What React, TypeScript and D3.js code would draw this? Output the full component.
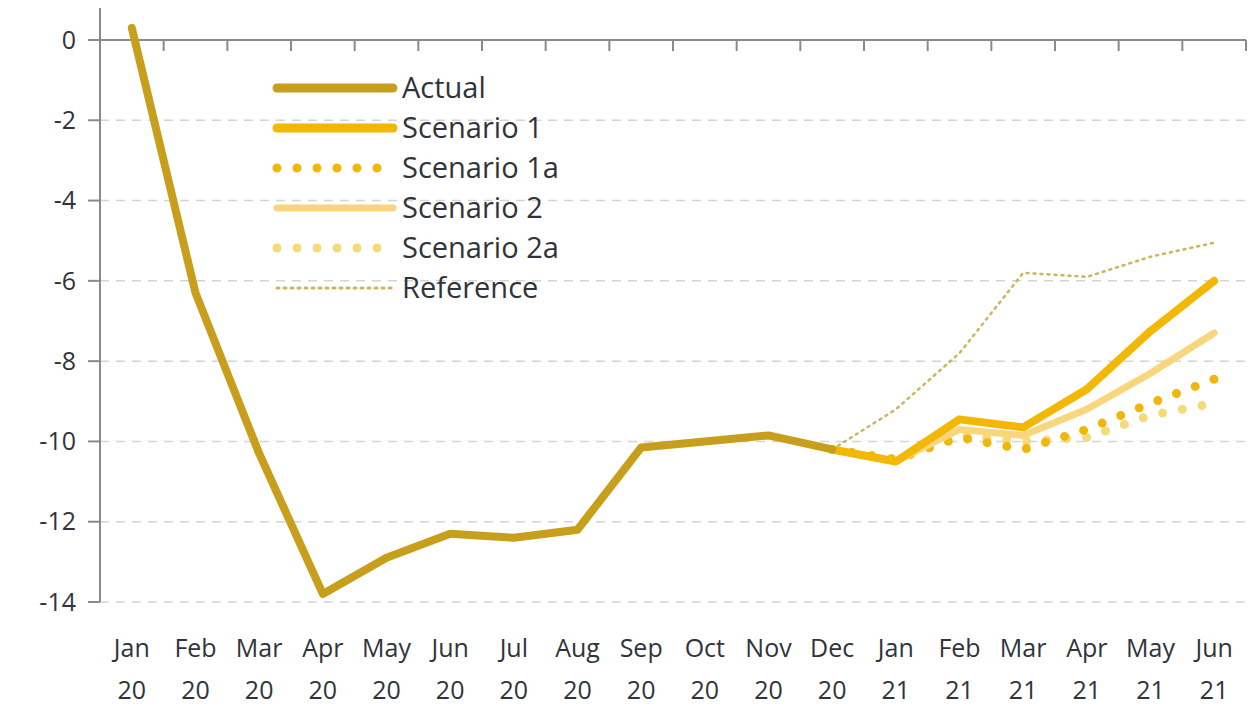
import React from "react";
import * as d3 from "d3";

const categories = [
  ["Jan", "20"], ["Feb", "20"], ["Mar", "20"], ["Apr", "20"], ["May", "20"], ["Jun", "20"],
  ["Jul", "20"], ["Aug", "20"], ["Sep", "20"], ["Oct", "20"], ["Nov", "20"], ["Dec", "20"],
  ["Jan", "21"], ["Feb", "21"], ["Mar", "21"], ["Apr", "21"], ["May", "21"], ["Jun", "21"],
];

const actual: (number | null)[] = [0.3, -6.3, -10.3, -13.8, -12.9, -12.3, -12.4, -12.2, -10.15, -10.0, -9.85, -10.2, null, null, null, null, null, null];
const scenario1: (number | null)[] = [null, null, null, null, null, null, null, null, null, null, null, -10.2, -10.5, -9.45, -9.65, -8.7, -7.25, -6.0];
const scenario1a: (number | null)[] = [null, null, null, null, null, null, null, null, null, null, null, -10.2, -10.45, -9.9, -10.2, -9.7, -9.05, -8.45];
const scenario2: (number | null)[] = [null, null, null, null, null, null, null, null, null, null, null, -10.2, -10.5, -9.7, -9.85, -9.2, -8.3, -7.3];
const scenario2a: (number | null)[] = [null, null, null, null, null, null, null, null, null, null, null, -10.2, -10.45, -9.85, -10.0, -9.9, -9.35, -9.05];
const reference: (number | null)[] = [null, null, null, null, null, null, null, null, null, null, null, -10.2, -9.2, -7.8, -5.8, -5.9, -5.4, -5.05];

const yTicks = [0, -2, -4, -6, -8, -10, -12, -14];

const seriesNames = ["Actual", "Scenario 1", "Scenario 1a", "Scenario 2", "Scenario 2a", "Reference"];

const FONT = "'Open Sans', sans-serif";
const TEXT = "#30343a";

export default function App() {
  const W = 1255, H = 728;
  const left = 100, right = 1246, top0 = 40, bottom = 602;
  const x = d3.scaleBand<number>().domain(d3.range(categories.length)).range([left, right]);
  const y = d3.scaleLinear().domain([-14, 0]).range([bottom, top0]);
  const cx = (i: number) => (x(i) as number) + x.bandwidth() / 2;

  const lineGen = d3.line<number | null>()
    .defined((d) => d !== null)
    .x((_, i) => cx(i))
    .y((d) => y(d as number));

  const styles: Record<string, any> = {
    "Actual": { stroke: "#C79F1C", width: 8, dash: undefined },
    "Scenario 1": { stroke: "#F3B806", width: 8, dash: undefined },
    "Scenario 1a": { stroke: "#EFB70A", width: 9, dash: "0 20" },
    "Scenario 2": { stroke: "#F7D67E", width: 7, dash: undefined },
    "Scenario 2a": { stroke: "#F5DA7A", width: 9, dash: "0 20" },
    "Reference": { stroke: "#CDB55A", width: 2.5, dash: "2 5" },
  };
  const dataMap: Record<string, (number | null)[]> = {
    "Actual": actual,
    "Scenario 1": scenario1,
    "Scenario 1a": scenario1a,
    "Scenario 2": scenario2,
    "Scenario 2a": scenario2a,
    "Reference": reference,
  };
  const drawOrder = ["Reference", "Scenario 2a", "Scenario 1a", "Scenario 2", "Scenario 1", "Actual"];

  return (
    <div style={{ position: "fixed", left: 0, top: 0 }}>
      <svg width={W} height={H} style={{ display: "block", background: "#fff" }}>
        {/* gridlines */}
        {yTicks.filter((t) => t !== 0).map((t) => (
          <line key={"g" + t} x1={left} x2={right} y1={y(t)} y2={y(t)} stroke="#d4d4d4" strokeWidth={1.5} strokeDasharray="9 7" />
        ))}
        {/* y axis */}
        <line x1={left} x2={left} y1={8} y2={bottom} stroke="#8a8a8a" strokeWidth={2} />
        {yTicks.map((t) => (
          <g key={"yt" + t}>
            <line x1={left - 12} x2={left} y1={y(t)} y2={y(t)} stroke="#8a8a8a" strokeWidth={2} />
            <text x={left - 24} y={y(t)} dy="0.35em" textAnchor="end" fontFamily={FONT} fontSize={25} fill={TEXT}>{t}</text>
          </g>
        ))}
        {/* x axis at 0 */}
        <line x1={left} x2={right} y1={y(0)} y2={y(0)} stroke="#8a8a8a" strokeWidth={2} />
        {d3.range(categories.length + 1).map((i) => {
          const xx = left + i * x.bandwidth();
          return <line key={"xt" + i} x1={xx} x2={xx} y1={y(0)} y2={y(0) + 11} stroke="#8a8a8a" strokeWidth={2} />;
        })}
        {categories.map((c, i) => (
          <text key={"xl" + i} x={cx(i)} textAnchor="middle" fontFamily={FONT} fontSize={25} fill={TEXT}>
            <tspan x={cx(i)} y={657}>{c[0]}</tspan>
            <tspan x={cx(i)} y={699}>{c[1]}</tspan>
          </text>
        ))}
        {/* series */}
        {drawOrder.map((name) => {
          const s = styles[name];
          return (
            <path key={name} d={lineGen(dataMap[name]) || ""} fill="none" stroke={s.stroke} strokeWidth={s.width}
              strokeDasharray={s.dash} strokeLinecap="round" strokeLinejoin="round" />
          );
        })}
        {/* legend */}
        {seriesNames.map((name, k) => {
          const s = styles[name];
          const ly = 88 + k * 40;
          return (
            <g key={"lg" + name}>
              <line x1={277} x2={393} y1={ly} y2={ly} stroke={s.stroke} strokeWidth={name === "Scenario 2" ? 7 : name === "Reference" ? 3 : 9}
                strokeDasharray={s.dash} strokeLinecap="round" />
              <text x={402} y={ly} dy="0.35em" fontFamily={FONT} fontSize={29} fill={TEXT}>{name}</text>
            </g>
          );
        })}
      </svg>
    </div>
  );
}
